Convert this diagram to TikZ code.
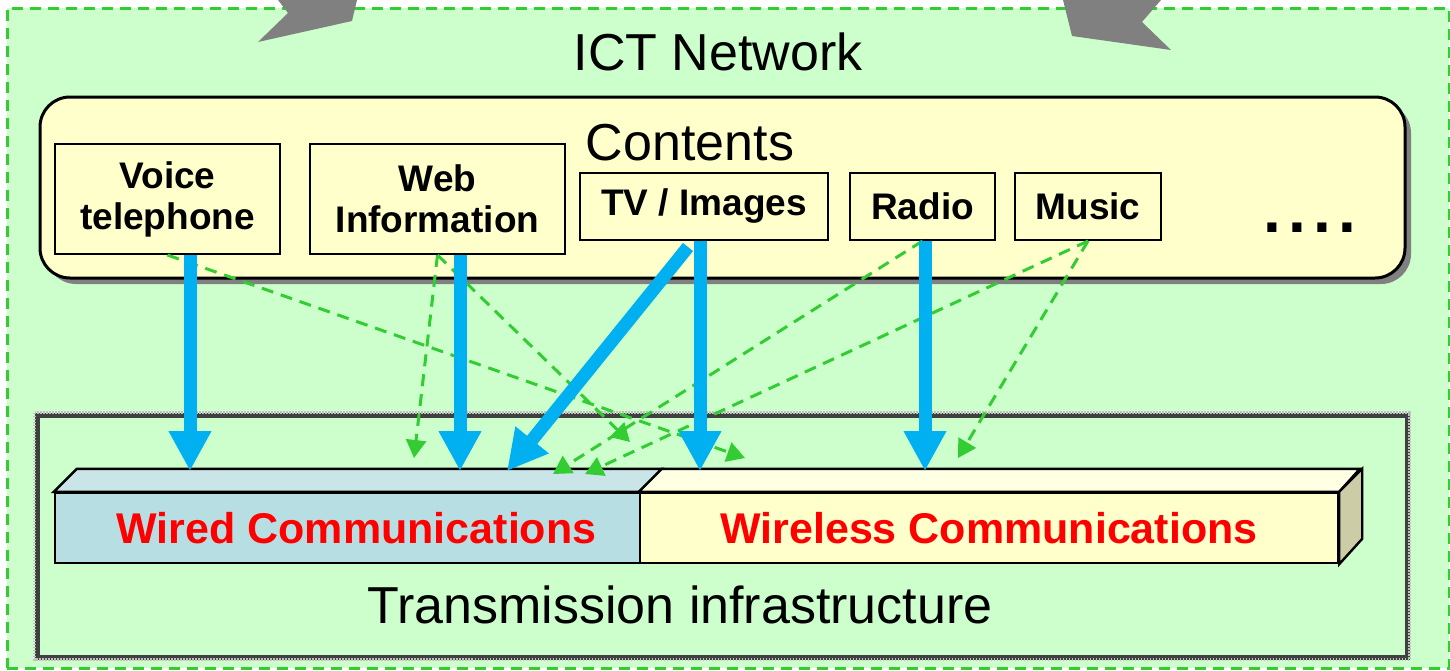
\documentclass[tikz,border=0pt]{standalone}
\usepackage{fontspec}
\setmainfont{Liberation Sans}
\usetikzlibrary{arrows.meta,shadows}

\definecolor{ictgreen}{HTML}{CCFFCC}
\definecolor{dashgreen}{HTML}{33CC33}
\definecolor{contyellow}{HTML}{FFFFCC}
\definecolor{flowblue}{HTML}{00B0F0}
\definecolor{wiredfront}{HTML}{B7DEE2}
\definecolor{wiredtop}{HTML}{C9E5E8}
\definecolor{lesstop}{HTML}{FFFFE3}
\definecolor{lessside}{HTML}{CCCCA6}

\begin{document}
\begin{tikzpicture}[x=0.5pt,y=-0.5pt,
		srcbox/.style={draw=black, line width=1pt, fill=contyellow, inner sep=0pt, align=center,
			font=\bfseries\fontsize{18.5}{20.5}\selectfont},
		bigtext/.style={inner sep=0pt, font=\fontsize{26}{30}\selectfont},
		linkfront/.style={draw=black, line width=1.2pt, inner sep=0pt, minimum height=35pt,
			text=red, font=\bfseries\fontsize{21.5}{24}\selectfont},
		bigflow/.style={draw=flowblue, line width=6.5pt, -{Triangle[width=20pt,length=20pt]}},
		mapflow/.style={draw=dashgreen, line width=1.5pt, dash pattern=on 6pt off 4pt,
			-{Triangle[width=10pt,length=9pt]}}]
		\useasboundingbox (0,0) rectangle (1450,670);
		\node [draw=dashgreen, fill=ictgreen, line width=1.5pt, dash pattern=on 5.5pt off 3.5pt,
			minimum width=721pt, minimum height=330pt] (ict) at (728,338) {};
		\fill [black!50] (278,0) -- (288,13) -- (258,42) -- (352,21) -- (357,0) -- cycle;
		\fill [black!50] (1063,0) -- (1072,36) -- (1171,50) -- (1142,22) -- (1161,0) -- cycle;
		\node [bigtext] (icttitle) at (718,52) {ICT Network};
		\node [draw=black, line width=1.5pt, fill=contyellow, rounded corners=15pt,
			minimum width=682.5pt, minimum height=90.5pt,
			drop shadow={fill=black!50, opacity=1, shadow xshift=3pt, shadow yshift=-3pt}] (contents) at (722.5,187.5) {};
		\node [bigtext] (contitle) at (690,143) {Contents};
		\node [srcbox, minimum width=112.5pt, minimum height=55pt] (voice) at (167.5,199) {Voice\\telephone};
		\node [srcbox, minimum width=127.5pt, minimum height=55pt] (web) at (437.5,199) {Web\\Information};
		\node [srcbox, minimum width=124pt, minimum height=33.5pt] (tv) at (704,206.5) {TV / Images};
		\node [srcbox, minimum width=72.5pt, minimum height=33.5pt] (radio) at (922.5,206.5) {Radio};
		\node [srcbox, minimum width=73pt, minimum height=33.5pt] (music) at (1088,206.5) {Music};
		\node [inner sep=0pt, font=\bfseries\fontsize{32}{32}\selectfont] (more) at (1310,228) {.\hspace{3.5pt}.\hspace{3.5pt}.\hspace{3.5pt}.};
		\node [draw=black!75, line width=2.5pt, minimum width=685pt, minimum height=121pt] (trans) at (722,536) {};
		\draw [white!75!black, line width=1.2pt, dash pattern=on 0.6pt off 0.9pt] (trans.north west) rectangle (trans.south east);
		\node [bigtext] (transtitle) at (680,605) {Transmission infrastructure};
		\node [linkfront, fill=wiredfront, minimum width=292.5pt] (wired) at (347.5,528) {\hspace{9pt}Wired Communications};
		\node [linkfront, fill=contyellow, minimum width=349pt] (wireless) at (989,528) {Wireless Communications};
		\draw [line width=1.2pt, fill=wiredtop] (wired.north west) -- ++(23,-23) -- ++(585,0) -- (wired.north east) -- cycle;
		\draw [line width=1.2pt, fill=lesstop] (wireless.north west) -- ++(23,-23) -- ++(698,0) -- (wireless.north east) -- cycle;
		\draw [line width=1.2pt, fill=lessside] (wireless.north east) -- ++(23,-23) -- ++(0,70) -- (wireless.south east) -- cycle;
		\coordinate (w1) at (190,471);
		\coordinate (w2) at (460,471);
		\coordinate (w3) at (507,471);
		\coordinate (w4) at (414,458);
		\coordinate (w5) at (553,474);
		\coordinate (w6) at (585,474);
		\coordinate (w7) at (630,442);
		\coordinate (r1) at (700,471);
		\coordinate (r2) at (925,471);
		\coordinate (r3) at (745,458);
		\coordinate (r4) at (958,458);
		\draw [mapflow] (voice.south) -- (r3);
		\draw [mapflow] (web.south) -- (w4);
		\draw [mapflow] (web.south) -- (w7);
		\draw [mapflow] (radio.south) -- (w5);
		\draw [mapflow] (music.south) -- (w6);
		\draw [mapflow] (music.south) -- (r4);
		\draw [bigflow] (voice.south -| w1) -- (w1);
		\draw [bigflow] (web.south -| w2) -- (w2);
		\draw [bigflow] ([xshift=-8pt,yshift=-3pt]tv.south) -- (w3);
		\draw [bigflow] (tv.south -| r1) -- (r1);
		\draw [bigflow] (radio.south -| r2) -- (r2);
	\end{tikzpicture}
\end{document}
